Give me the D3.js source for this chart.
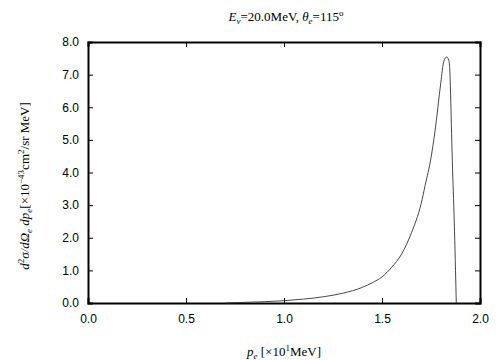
<!DOCTYPE html>
<html><head><meta charset="utf-8">
<script src="https://cdn.jsdelivr.net/npm/d3@7"></script>
<style>
body{margin:0;background:#fff;}
.tick text{font-family:"Liberation Sans",Arial,sans-serif;font-size:12px;fill:#000;}
.serif{font-family:"Liberation Serif","Times New Roman",serif;font-size:13px;fill:#000;}
</style></head>
<body><svg id="c" width="504" height="360"></svg>
<script>
const pe = [0.70, 0.80, 0.90, 1.00, 1.10, 1.20, 1.30, 1.40, 1.45, 1.50, 1.55, 1.60, 1.65, 1.70, 1.72, 1.75, 1.77, 1.80, 1.815, 1.83, 1.84, 1.845, 1.850, 1.855, 1.860, 1.865, 1.870, 1.875, 1.879];
const xs = [0.00, 0.02, 0.04, 0.07, 0.12, 0.19, 0.30, 0.48, 0.62, 0.80, 1.10, 1.50, 2.15, 3.05, 3.60, 4.45, 5.25, 6.75, 7.40, 7.54, 7.45, 7.25, 6.40, 5.20, 4.10, 3.20, 2.20, 1.00, 0.00];
const xTicks = [0, 0.5, 1.0, 1.5, 2.0];
const yTicks = [0, 1, 2, 3, 4, 5, 6, 7, 8];

const svg = d3.select("#c");
const L = 88, R = 480, T = 42, B = 303;
const x = d3.scaleLinear().domain([0, 2]).range([L, R]);
const y = d3.scaleLinear().domain([0, 8]).range([B, T]);

const fmt = d3.format(".1f");
const gx = svg.append("g").attr("transform", `translate(0,${B})`)
  .call(d3.axisBottom(x).tickValues(xTicks).tickFormat(fmt).tickSize(-5).tickPadding(11));
const gy = svg.append("g").attr("transform", `translate(${L},0)`)
  .call(d3.axisLeft(y).tickValues(yTicks).tickFormat(fmt).tickSize(-5).tickPadding(9));
const gt = svg.append("g").attr("transform", `translate(0,${T})`)
  .call(d3.axisTop(x).tickValues(xTicks).tickFormat("").tickSize(-5));
const gr = svg.append("g").attr("transform", `translate(${R},0)`)
  .call(d3.axisRight(y).tickValues(yTicks).tickFormat("").tickSize(-5));
[gx, gy, gt, gr].forEach(g => {
  g.select(".domain").attr("stroke", "#000").attr("stroke-width", 2);
  g.selectAll(".tick line").attr("stroke", "#000").attr("stroke-width", 1);
});

const line = d3.line().x((d, i) => x(pe[i])).y((d, i) => y(xs[i])).curve(d3.curveMonotoneX);
svg.append("path").datum(xs).attr("d", line)
  .attr("fill", "none").attr("stroke", "#333").attr("stroke-width", 0.9);

// title
const t = svg.append("text").attr("class", "serif").attr("x", 286).attr("y", 21).attr("text-anchor", "middle");
t.append("tspan").attr("font-style", "italic").text("E");
t.append("tspan").attr("font-style", "italic").attr("font-size", "9px").attr("dy", 3).text("ν");
t.append("tspan").attr("dy", -3).text("=20.0MeV,  ");
t.append("tspan").attr("font-style", "italic").text("θ");
t.append("tspan").attr("font-style", "italic").attr("font-size", "9px").attr("dy", 3).text("e");
t.append("tspan").attr("dy", -3).text("=115");
t.append("tspan").attr("font-size", "9px").attr("dy", -5).text("o");

// x label
const xl = svg.append("text").attr("class", "serif").attr("x", 284).attr("y", 356).attr("text-anchor", "middle");
xl.append("tspan").attr("font-style", "italic").text("p");
xl.append("tspan").attr("font-style", "italic").attr("font-size", "9px").attr("dy", 3).text("e");
xl.append("tspan").attr("dy", -3).text(" [×10");
xl.append("tspan").attr("font-size", "9px").attr("dy", -5).text("1");
xl.append("tspan").attr("dy", 5).text("MeV]");

// y label
const yl = svg.append("text").attr("class", "serif").attr("transform", "translate(29,186) rotate(-90)").attr("text-anchor", "middle");
yl.append("tspan").attr("font-style", "italic").text("d");
yl.append("tspan").attr("font-size", "9px").attr("dy", -5).text("2");
yl.append("tspan").attr("font-style", "italic").attr("dy", 5).text("σ/dΩ");
yl.append("tspan").attr("font-style", "italic").attr("font-size", "9px").attr("dy", 3).text("e");
yl.append("tspan").attr("font-style", "italic").attr("dy", -3).text(" dp");
yl.append("tspan").attr("font-style", "italic").attr("font-size", "9px").attr("dy", 3).text("e");
yl.append("tspan").attr("dy", -3).text("[×10");
yl.append("tspan").attr("font-size", "9px").attr("dy", -5).text("−43");
yl.append("tspan").attr("dy", 5).text("cm");
yl.append("tspan").attr("font-size", "9px").attr("dy", -5).text("2");
yl.append("tspan").attr("dy", 5).text("/sr MeV]");
</script></body></html>
